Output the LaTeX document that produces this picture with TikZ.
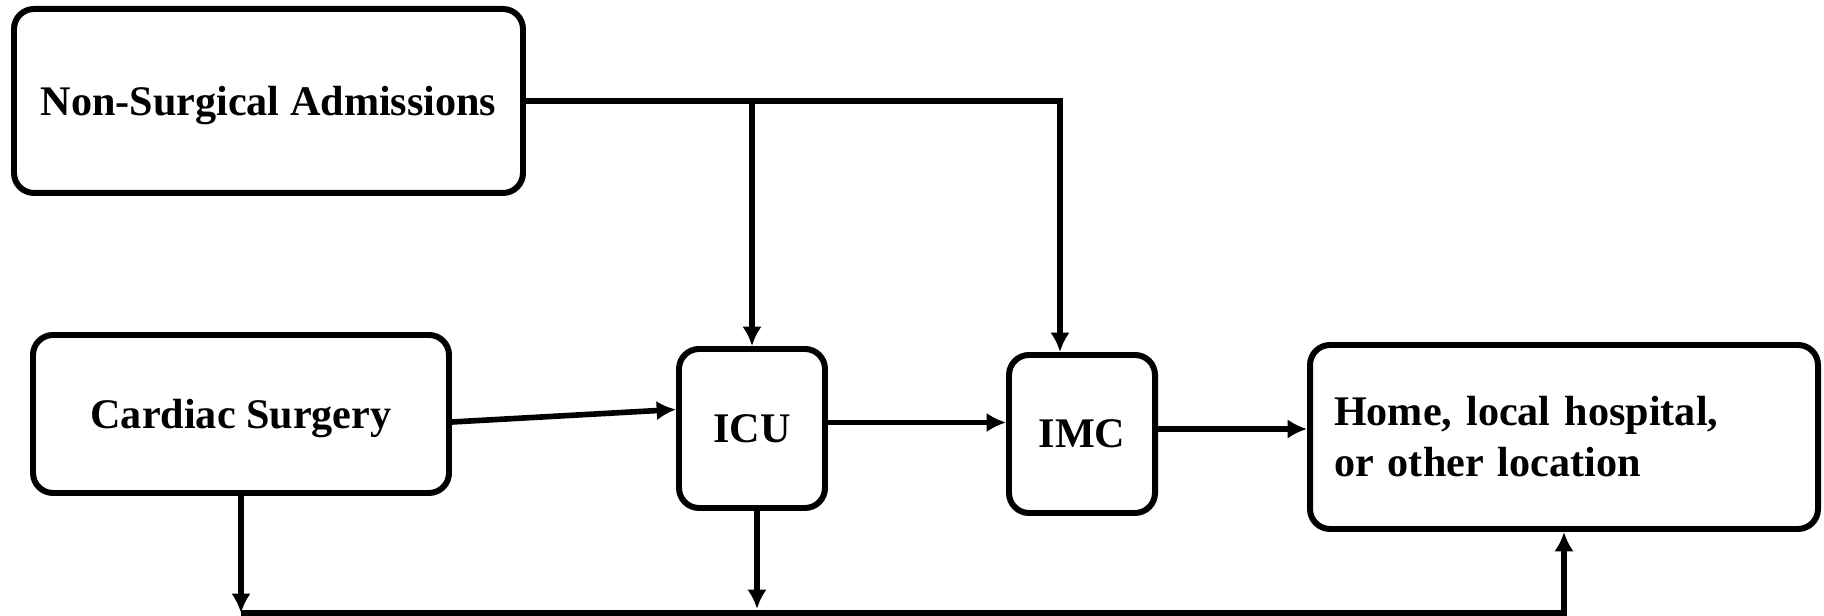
\documentclass[tikz,border=0pt]{standalone}
\usepackage{fontspec}
\setmainfont{Liberation Serif}
\usetikzlibrary{arrows.meta}
\begin{document}
\begin{tikzpicture}[>={Latex[length=5.5pt,width=5.5pt]},
	box/.style={draw,line width=1.7pt,rounded corners=0.2cm,
		font=\fontsize{12}{14.5}\selectfont\bfseries,inner sep=0pt},
	flow/.style={->,line width=1.6pt}]
\useasboundingbox (0,0) rectangle (18.24,-6.16);
\node (nsa) at (2.685,-1.01) [box,minimum width=5.09cm,minimum height=1.84cm,
	text depth=0pt] {Non-Surgical Admissions};
\node (cs) at (2.41,-4.14) [box,minimum width=4.16cm,minimum height=1.58cm,
	text depth=0pt] {Cardiac Surgery};
\node (icu) at (7.52,-4.285) [box,minimum width=1.46cm,minimum height=1.59cm] {ICU};
\node (imc) at (10.82,-4.34) [box,minimum width=1.46cm,minimum height=1.58cm] {IMC};
\node (home) at (15.64,-4.37) [box,minimum width=5.08cm,minimum height=1.84cm,
	text width=4.6cm,align=left] {Home, local hospital,\\or other location};
% helper points
\coordinate (jn) at (nsa.east -| icu.north);
\coordinate (bl) at (cs.south |- 0,-6.13);
\path ([xshift=0.05cm]icu.south) coordinate (icus);
\coordinate (icub) at (icus |- 0,-6.09);
\path ([xshift=-0.22cm]imc.north) coordinate (imcn);
% arrows
\draw[flow] (nsa.east) -| (imcn);
\draw[flow] (jn) -- (icu.north);
\draw[flow] ([yshift=-0.08cm]cs.east) -- ([yshift=0.19cm]icu.west);
\draw[flow] ([yshift=0.06cm]icu.east) -- ([yshift=0.06cm]icu.east -| imc.west);
\draw[flow] ([yshift=0.05cm]imc.east) -- ([yshift=0.05cm]imc.east -| home.west);
\draw[flow] (cs.south) -- (bl);
\draw[flow] (icus) -- (icub);
\draw[flow] (bl) -| (home.south);
\end{tikzpicture}
\end{document}
